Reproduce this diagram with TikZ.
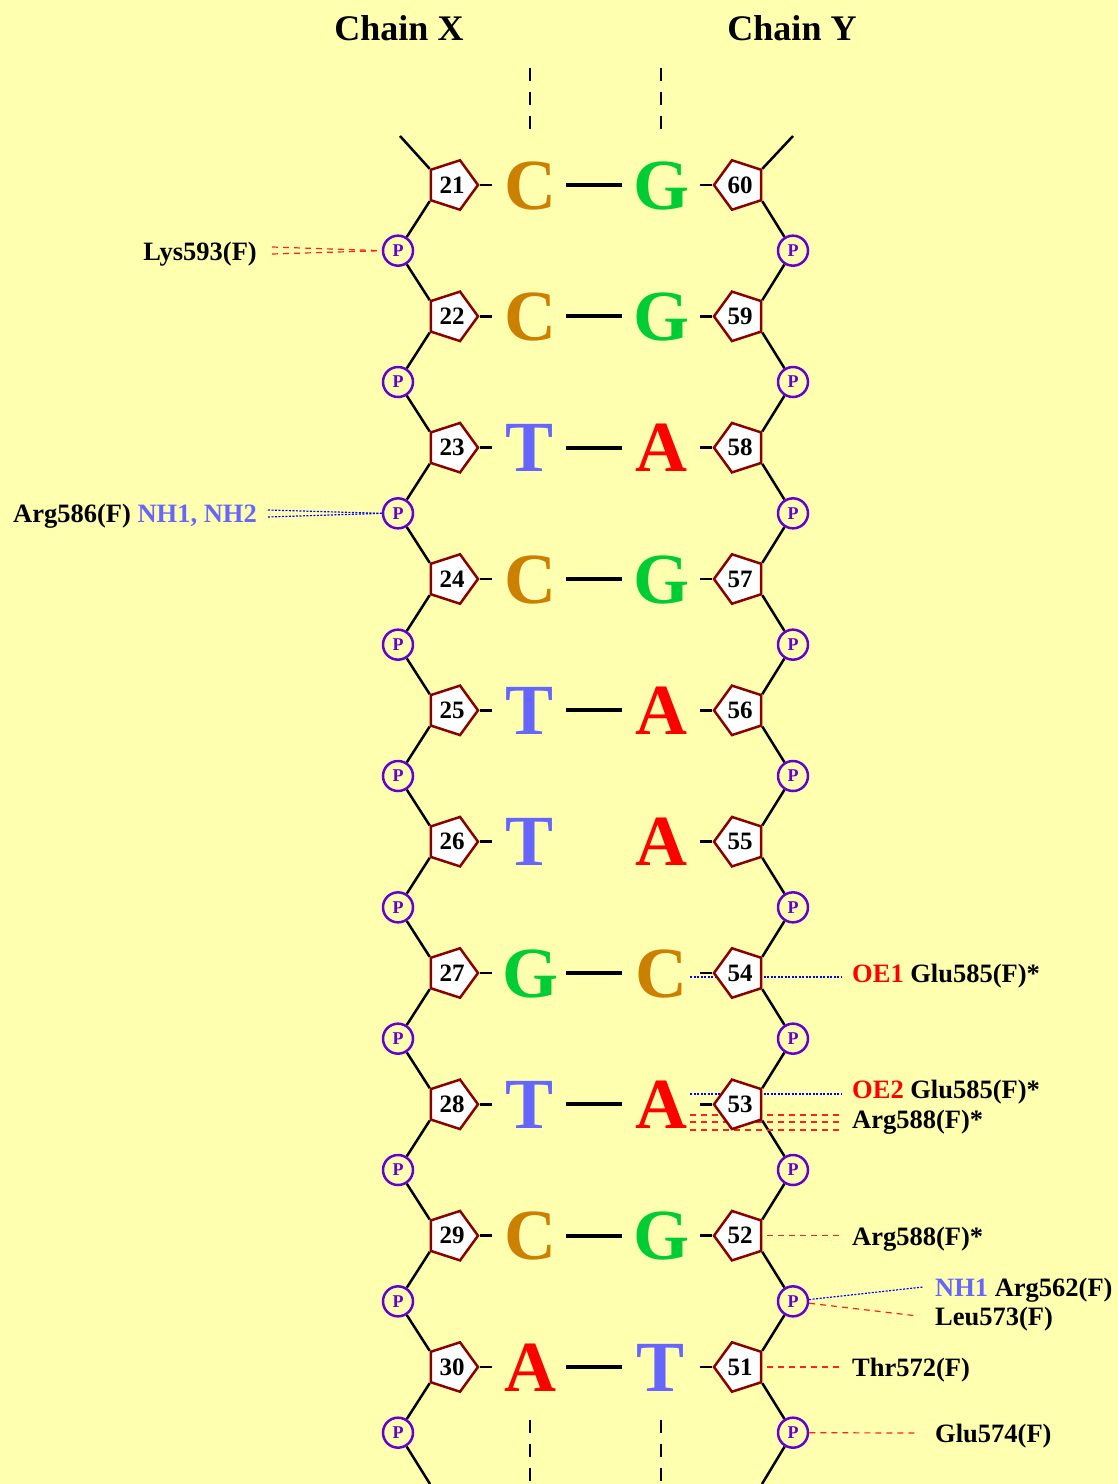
\documentclass[tikz,border=0pt]{standalone}
\usepackage{fontspec}
\setmainfont{Liberation Serif}
\usetikzlibrary{shapes.geometric}
\definecolor{bg}{HTML}{FFFFB0}
\definecolor{cC}{HTML}{CC8000}
\definecolor{cG}{HTML}{00CC33}
\definecolor{cT}{HTML}{6666FF}
\definecolor{cA}{HTML}{FF0000}
\definecolor{sugar}{HTML}{880000}
\definecolor{phos}{HTML}{6600CC}
\definecolor{hbred}{HTML}{FF2020}
\definecolor{hbblue}{HTML}{0000FF}
\pgfdeclarelayer{back}
\pgfdeclarelayer{lines}
\pgfsetlayers{back,lines,main}
\begin{document}
\begin{tikzpicture}[x=1pt,y=-1pt,
  sugarL/.style={regular polygon, regular polygon sides=5, shape border rotate=-90,
    draw=sugar, fill=white, line width=2.5pt, minimum size=52pt, inner sep=0pt,
    font=\fontsize{25}{25}\selectfont\bfseries},
  sugarR/.style={sugarL, shape border rotate=90},
  phosph/.style={circle, draw=phos, fill=bg, line width=2.5pt, minimum size=30pt,
    inner sep=0pt, text=phos, font=\fontsize{18}{18}\selectfont\bfseries},
  basel/.style={font=\fontsize{72}{72}\selectfont\bfseries, inner sep=0pt,
    text height=48pt, text depth=0pt, minimum width=60pt, anchor=base},
  bb/.style={line width=2.5pt, black},
  stub/.style={line width=2.5pt, black},
  pairline/.style={line width=4pt, black},
  vdash/.style={line width=2.5pt, black, dash pattern=on 13pt off 11pt},
  hbr/.style={line width=1.2pt, hbred, dash pattern=on 6pt off 5pt},
  hbb/.style={line width=1.2pt, hbblue, dash pattern=on 2pt off 1.5pt},
  lbl/.style={font=\fontsize{26.5}{30}\selectfont\bfseries, inner sep=0pt},
  chain/.style={font=\fontsize{36}{40}\selectfont\bfseries, inner sep=0pt, anchor=base}
]
\useasboundingbox (0,0) rectangle (1118,1484);
\begin{pgfonlayer}{back}
\fill[bg] (0,0) rectangle (1118,1484);
\end{pgfonlayer}

% chain titles
\node[chain] (chX) at (399,40) {Chain X};
\node[chain] (chY) at (792,40) {Chain Y};

% nucleotides
\foreach \i/\l/\r/\nl/\nr in {0/C/G/21/60,1/C/G/22/59,2/T/A/23/58,3/C/G/24/57,4/T/A/25/56,5/T/A/26/55,6/G/C/27/54,7/T/A/28/53,8/C/G/29/52,9/A/T/30/51}{
  \pgfmathsetmacro\y{185+131.333*\i}
  \pgfmathsetmacro\yb{209+131.333*\i}
  \pgfmathsetmacro\yp{250.667+131.333*\i}
  \node[sugarL] (sL\i) at (452,\y) {\nl};
  \node[sugarR] (sR\i) at (740,\y) {\nr};
  \node[basel, text=c\l] (bL\i) at (530,\yb) {\l};
  \node[basel, text=c\r] (bR\i) at (661,\yb) {\r};
  \node[phosph] (pL\i) at (398,\yp) {P};
  \node[phosph] (pR\i) at (793,\yp) {P};
}

% free ends
\coordinate (topL) at (400,136);
\coordinate (topR) at (793,136);
\coordinate (botL) at (430,1484);
\coordinate (botR) at (762,1484);
\coordinate (dXa) at (530,68);  \coordinate (dXb) at (530,132);
\coordinate (dYa) at (661,68);  \coordinate (dYb) at (661,132);
\coordinate (eXa) at (530,1420); \coordinate (eXb) at (530,1484);
\coordinate (eYa) at (661,1420); \coordinate (eYb) at (661,1484);

% labels
\node[lbl, anchor=base east] (lys) at (257,260) {Lys593(F)};
\node[lbl, anchor=base east] (arg586) at (257,522) {Arg586(F) \textcolor{cT}{NH1, NH2}};
\node[lbl, anchor=base west] (oe1) at (852,982) {\textcolor{cA}{OE1} Glu585(F)*};
\node[lbl, anchor=base west] (oe2) at (852,1098) {\textcolor{cA}{OE2} Glu585(F)*};
\node[lbl, anchor=base west] (arg588a) at (852,1128) {Arg588(F)*};
\node[lbl, anchor=base west] (arg588b) at (852,1245) {Arg588(F)*};
\node[lbl, anchor=base west] (arg562) at (935,1296) {\textcolor{cT}{NH1} Arg562(F)};
\node[lbl, anchor=base west] (leu) at (935,1325) {Leu573(F)};
\node[lbl, anchor=base west] (thr) at (852,1376) {Thr572(F)};
\node[lbl, anchor=base west] (glu574) at (935,1442) {Glu574(F)};

% interaction end points
\coordinate (lysA) at (272,247);
\coordinate (lysB) at (272,254);
\coordinate (argA) at (268,510);
\coordinate (argB) at (268,517);
\coordinate (oe1s) at (690,977);
\coordinate (oe2s) at (690,1094);
\coordinate (a88a) at (690,1115);
\coordinate (a88b) at (690,1122);
\coordinate (a88c) at (690,1130);
\coordinate (nh1e) at (923,1287);
\coordinate (leue) at (918,1316);
\coordinate (glue) at (918,1433);

\begin{pgfonlayer}{lines}
  % backbone
  \draw[bb] (topL) -- (sL0.corner 3);
  \draw[bb] (topR) -- (sR0.corner 4);
  \foreach \i in {0,...,9}{
    \draw[bb] (sL\i.corner 4) -- (pL\i);
    \draw[bb] (sR\i.corner 3) -- (pR\i);
    \draw[stub, shorten >=8pt] (sL\i.corner 1) -- (bL\i.west);
    \draw[stub, shorten <=9pt] (bR\i.east) -- (sR\i.corner 1);
  }
  \foreach \i [evaluate=\i as \j using int(\i+1)] in {0,...,8}{
    \draw[bb] (pL\i) -- (sL\j.corner 3);
    \draw[bb] (pR\i) -- (sR\j.corner 4);
  }
  \draw[bb] (pL9) -- (botL);
  \draw[bb] (pR9) -- (botR);
  % base pairs
  \foreach \i in {0,1,2,3,4,6,7,8,9}{
    \draw[pairline, shorten <=6pt, shorten >=9pt] (bL\i.east) -- (bR\i.west);
  }
  % continuation dashes
  \draw[vdash] (dXa) -- (dXb);
  \draw[vdash] (dYa) -- (dYb);
  \draw[vdash] (eXa) -- (eXb);
  \draw[vdash] (eYa) -- (eYb);
  % interactions
  \draw[hbr] (lysA) -- (pL0.west);
  \draw[hbr] (lysB) -- (pL0.west);
  \draw[hbb] (argA) -- (pL2.west);
  \draw[hbb] (argB) -- (pL2.west);
  \draw[hbb, shorten >=10pt] (oe1s) -- (oe1s -| oe1.west);
  \draw[hbb, shorten >=10pt] (oe2s) -- (oe2s -| oe2.west);
  \draw[hbr, shorten >=10pt] (a88a) -- (a88a -| arg588a.west);
  \draw[hbr, shorten >=10pt] (a88b) -- (a88b -| arg588a.west);
  \draw[hbr, shorten >=10pt] (a88c) -- (a88c -| arg588a.west);
  \draw[hbr, shorten <=5pt, shorten >=10pt] (sR8.east) -- (sR8.east -| arg588b.west);
  \draw[hbr, shorten <=5pt, shorten >=10pt] (sR9.east) -- (sR9.east -| thr.west);
  \draw[hbb] (pR8) -- (nh1e);
  \draw[hbr] (pR8) -- (leue);
  \draw[hbr] (pR9) -- (glue);
\end{pgfonlayer}
\end{tikzpicture}
\end{document}
